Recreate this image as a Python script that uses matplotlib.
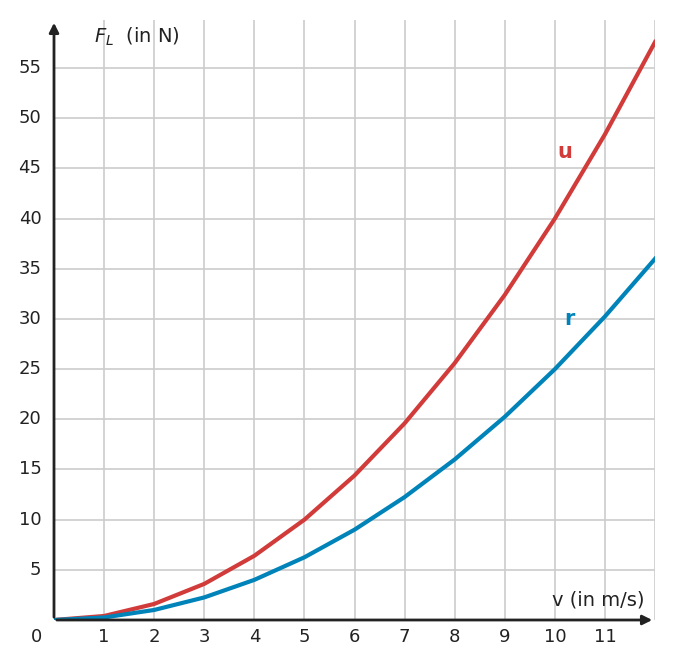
import matplotlib
matplotlib.use("Agg")
import matplotlib.pyplot as plt

v = [0, 1, 2, 3, 4, 5, 6, 7, 8, 9, 10, 11, 12]
f_u = [0, 0.4, 1.6, 3.6, 6.4, 10, 14.4, 19.6, 25.6, 32.4, 40, 48.4, 57.6]
f_r = [0, 0.25, 1, 2.25, 4, 6.25, 9, 12.25, 16, 20.25, 25, 30.25, 36]
x_ticks = [1, 2, 3, 4, 5, 6, 7, 8, 9, 10, 11]
y_ticks = [5, 10, 15, 20, 25, 30, 35, 40, 45, 50, 55]

red = "#d13b3a"
blue = "#0083b8"
txt = "#222222"

fig = plt.figure(figsize=(6.74, 6.68), dpi=100)
ax = fig.add_axes([54 / 674, 48 / 668, 601 / 674, 600 / 668])
ax.set_xlim(0, 12)
ax.set_ylim(0, 59.8)

for x in x_ticks + [12]:
    ax.axvline(x, color="#cccccc", lw=1.2, zorder=0)
for y in y_ticks:
    ax.axhline(y, color="#cccccc", lw=1.2, zorder=0)

ax.plot(v, f_u, color=red, lw=3, zorder=3)
ax.plot(v, f_r, color=blue, lw=3, zorder=3)

for s in ax.spines.values():
    s.set_visible(False)
ax.set_xticks([])
ax.set_yticks([])

# axes with arrows
ax.annotate("", xy=(12.0, 0), xytext=(0, 0), xycoords="data",
            arrowprops=dict(arrowstyle="-|>", color=txt, lw=2, mutation_scale=14),
            annotation_clip=False)
ax.annotate("", xy=(0, 59.8), xytext=(0, 0), xycoords="data",
            arrowprops=dict(arrowstyle="-|>", color=txt, lw=2, mutation_scale=14),
            annotation_clip=False)

for x in x_ticks:
    ax.text(x, -1.7, str(x), ha="center", va="center", fontsize=13, color=txt)
ax.text(-0.35, -1.7, "0", ha="center", va="center", fontsize=13, color=txt)
for y in y_ticks:
    ax.text(-0.25, y, str(y), ha="right", va="center", fontsize=13, color=txt)

ax.text(0.8, 58.1, r"$F_L$  (in N)", ha="left", va="center", fontsize=14, color=txt)
ax.text(11.8, 2.0, "v (in m/s)", ha="right", va="center", fontsize=14, color=txt)
ax.text(10.2, 46.6, "u", ha="center", va="center", fontsize=15, color=red, fontweight="bold")
ax.text(10.3, 30.0, "r", ha="center", va="center", fontsize=15, color=blue, fontweight="bold")

fig.savefig("out.png", dpi=100)
